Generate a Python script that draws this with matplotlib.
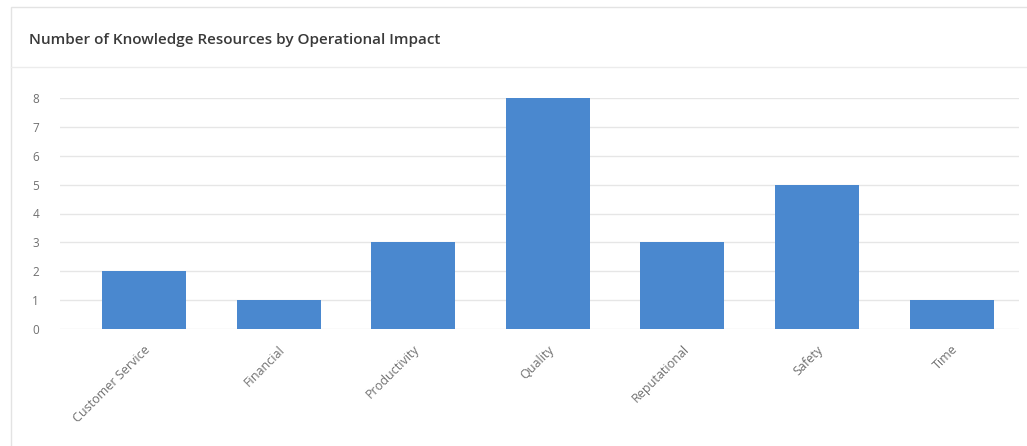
import matplotlib.pyplot as plt
from matplotlib.patches import Rectangle
from matplotlib.lines import Line2D

categories = ["Customer Service", "Financial", "Productivity", "Quality",
              "Reputational", "Safety", "Time"]
counts = [2, 1, 3, 8, 3, 5, 1]
y_ticks = [0, 1, 2, 3, 4, 5, 6, 7, 8]

W, H = 1027, 446
fig = plt.figure(figsize=(W / 100, H / 100), dpi=100)
fig.patch.set_facecolor("white")

# card frame + header separator
fig.add_artist(Rectangle((11 / W, -0.1), 1.2, (H - 7) / H + 0.1, transform=fig.transFigure,
                         fill=False, edgecolor="#e3e3e3", lw=1))
fig.add_artist(Line2D([11 / W, 1], [1 - 67 / H] * 2, transform=fig.transFigure,
                      color="#ececec", lw=1))
fig.text(29 / W, 1 - 40 / H, "Number of Knowledge Resources by Operational Impact",
         fontsize=11, color="#3a3a3a", weight="semibold", va="center", ha="left",
         family="Open Sans")

ax = fig.add_axes([60 / W, 1 - 329 / H, (1019 - 60) / W, (329 - 98) / H])
x = range(len(categories))
ax.bar(x, counts, width=0.624, color="#4a88cf", zorder=3)
ax.set_xlim(-0.624, 6.5)
ax.set_ylim(0, 8)
ax.set_yticks(y_ticks)
ax.set_xticks(list(x))
ax.set_xticklabels(categories, rotation=45, ha="right", rotation_mode="anchor",
                   fontsize=9, color="#707070", family="Open Sans")
for lab in ax.get_yticklabels():
    lab.set_fontsize(8.5)
    lab.set_color("#707070")
    lab.set_family("Open Sans")
ax.tick_params(axis="both", length=0)
ax.tick_params(axis="y", pad=15)
ax.tick_params(axis="x", pad=10)
ax.grid(axis="y", color="#e6e6e6", lw=1, zorder=0)
for s in ax.spines.values():
    s.set_visible(False)
ax.set_facecolor("none")

fig.savefig("out.png", dpi=100)
